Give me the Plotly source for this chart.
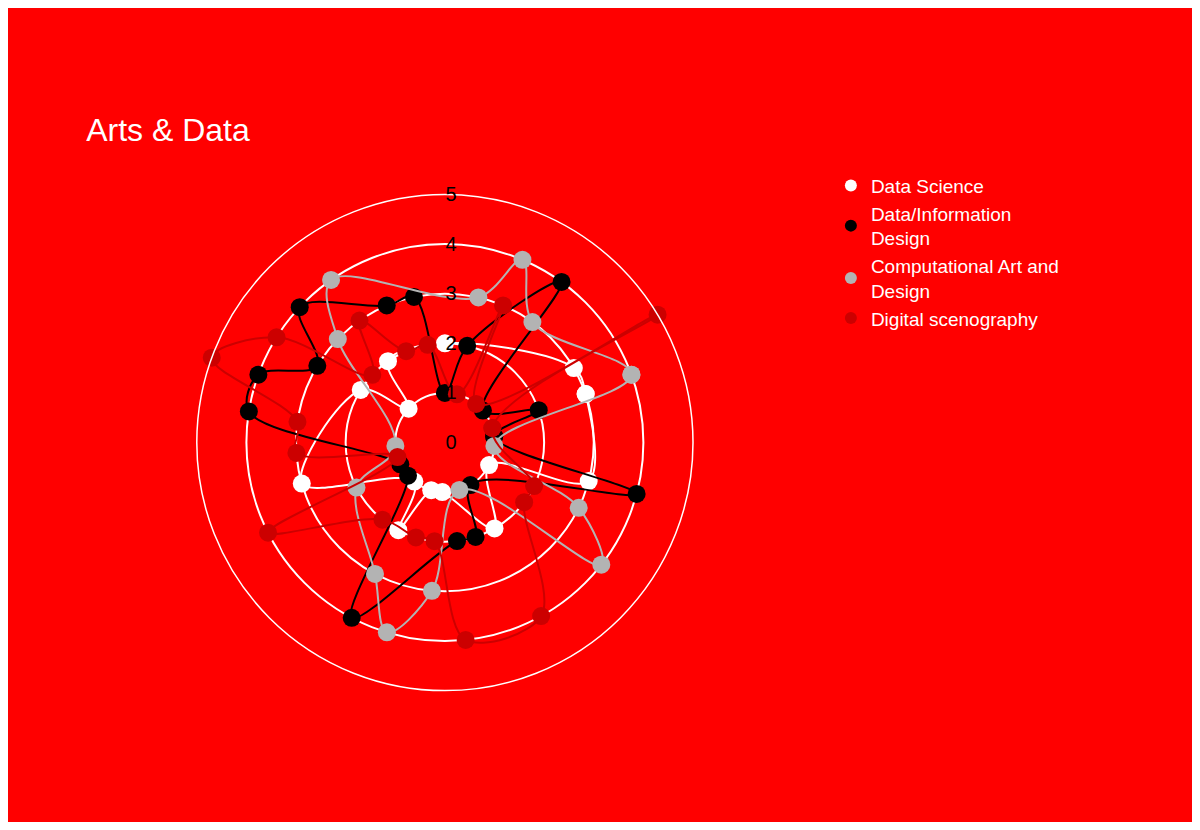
import plotly.graph_objects as go

names = ["Data Science", "Data/Information<br>Design", "Computational Art and<br>Design", "Digital scenography"]
colors = ["#ffffff", "#000000", "#b3b3b3", "#cc0000"]

ds_theta = [19, 30, 90, 125, 137, 148, 196, 232, 242, 254, 267, 300, 333, 345]
ds_r = [3, 3, 2, 2, 1, 2, 3, 1, 2, 1, 1, 2, 1, 3]

did_theta = [7, 19, 40, 54, 77, 90, 102, 113, 137, 149, 160, 171, 206, 222, 242, 277, 288, 301, 345]
did_r = [1, 2, 1, 4, 2, 1, 3, 3, 4, 3, 4, 4, 1, 1, 4, 2, 2, 1, 4]

cad_theta = [20, 54, 67, 77, 125, 136, 184, 207, 242, 253, 265, 287, 322, 334, 356]
cad_r = [4, 3, 4, 3, 4, 3, 1, 2, 3, 4, 3, 1, 4, 3, 1]

dsc_theta = [17, 31, 51, 67, 76, 100, 113, 125, 137, 148, 160, 172, 184, 197, 207, 231, 253, 264, 276, 299, 323, 334]
dsc_r = [1, 5, 1, 3, 1, 2, 2, 3, 2, 4, 5, 3, 3, 1, 4, 2, 2, 2, 4, 4, 2, 2]

series = [(ds_theta, ds_r), (did_theta, did_r), (cad_theta, cad_r), (dsc_theta, dsc_r)]

fig = go.Figure()
for name, color, (th, r) in zip(names, colors, series):
    fig.add_trace(go.Scatterpolar(
        r=r + r[:1], theta=th + th[:1], name=name, mode="lines+markers",
        line=dict(color=color, width=2, shape="spline"),
        marker=dict(color=color, size=18), showlegend=False,
    ))
    # legend entry with marker only
    fig.add_trace(go.Scatterpolar(
        r=[None], theta=[None], name=name, mode="markers",
        marker=dict(color=color, size=20),
    ))

fig.update_layout(
    paper_bgcolor="#ff0000", plot_bgcolor="#ff0000",
    font=dict(family="Liberation Sans, Arial", color="white", size=19),
    title=dict(text="Arts & Data", x=0.066, y=0.85, yanchor="middle", font=dict(size=32, color="white")),
    margin=dict(l=0, r=0, t=0, b=0),
    legend=dict(x=0.695, y=0.805, yanchor="top", font=dict(size=19, color="white"),
                itemsizing="constant", tracegroupgap=14),
    polar=dict(
        domain=dict(x=[0.158, 0.58], y=[0.1614, 0.771]),
        bgcolor="#ff0000",
        radialaxis=dict(range=[0, 5], tickvals=[0, 1, 2, 3, 4, 5], angle=90, tickangle=90,
                        showline=False, ticks="", gridcolor="white", gridwidth=1.5,
                        tickfont=dict(color="black", size=20)),
        angularaxis=dict(showticklabels=False, ticks="", showgrid=False,
                         linecolor="white", linewidth=1.5),
    ),
)
fig.write_html("out.html")
